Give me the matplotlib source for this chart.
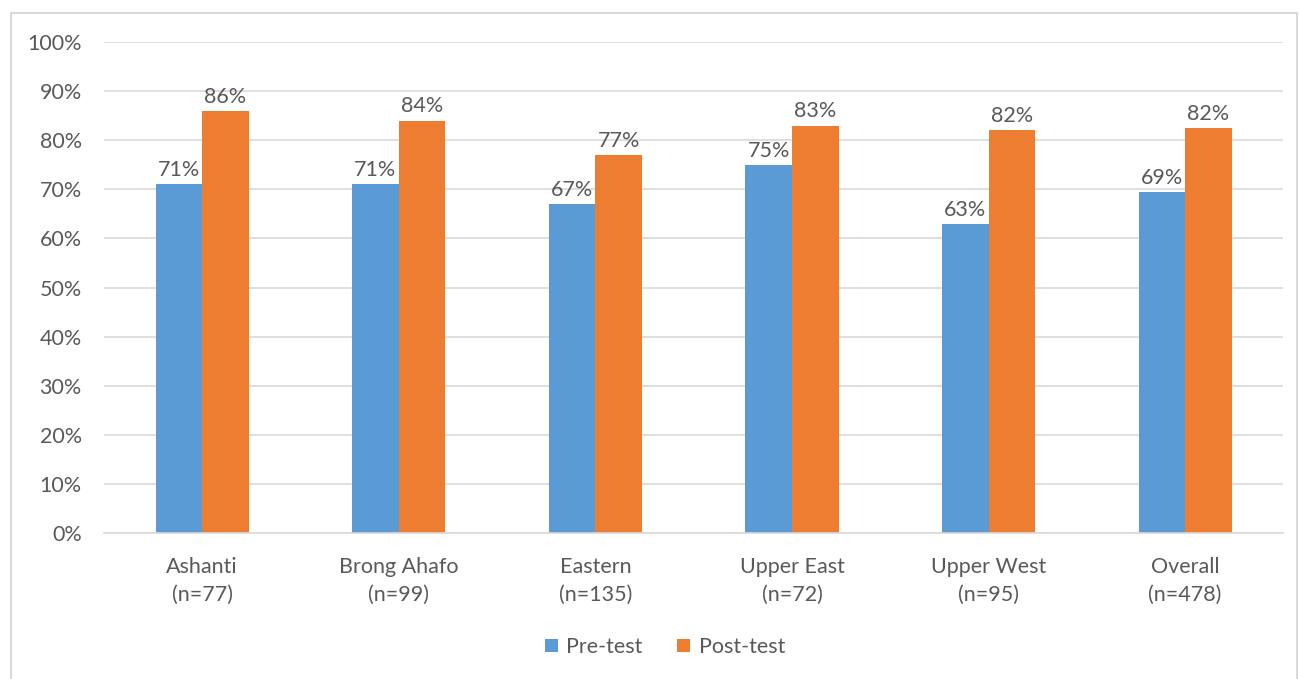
import matplotlib.pyplot as plt
import numpy as np
from matplotlib.patches import Rectangle

regions = ["Ashanti\n(n=77)", "Brong Ahafo\n(n=99)", "Eastern\n(n=135)",
           "Upper East\n(n=72)", "Upper West\n(n=95)", "Overall\n(n=478)"]
pre_test = [0.71, 0.71, 0.67, 0.75, 0.63, 0.694]
post_test = [0.86, 0.84, 0.77, 0.83, 0.82, 0.824]

plt.rcParams['font.family'] = ['Lato', 'DejaVu Sans']
text_color = "#595959"
grid_color = "#d9d9d9"
fs = 15.5

fig = plt.figure(figsize=(12.99, 6.79), dpi=100)
ax = fig.add_axes([0.080, 0.215, 0.908, 0.723])

x = np.arange(len(regions))
w = 0.237
b1 = ax.bar(x - w / 2, pre_test, w, color="#5B9BD5", label="Pre-test", zorder=2)
b2 = ax.bar(x + w / 2, post_test, w, color="#ED7D31", label="Post-test", zorder=2)

for bars in (b1, b2):
    for bar in bars:
        v = bar.get_height()
        ax.annotate(f"{v * 100:.0f}%", (bar.get_x() + bar.get_width() / 2, v),
                    xytext=(0, 3), textcoords="offset points",
                    ha="center", va="bottom", fontsize=fs, color=text_color)

ax.set_xlim(-0.5, len(regions) - 0.5)
ax.set_ylim(0, 1.0)
ax.set_yticks(np.arange(0, 1.01, 0.1))
ax.set_yticklabels([f"{int(round(t * 100))}%" for t in np.arange(0, 1.01, 0.1)])
ax.set_xticks(x)
ax.set_xticklabels(regions, linespacing=1.5)
ax.tick_params(axis="both", length=0, labelsize=fs, labelcolor=text_color)
ax.tick_params(axis="x", pad=17)
ax.tick_params(axis="y", pad=16)

ax.grid(axis="y", color=grid_color, linewidth=1.2, zorder=0)
for side in ("top", "right", "left"):
    ax.spines[side].set_visible(False)
ax.spines["bottom"].set_color(grid_color)
ax.spines["bottom"].set_linewidth(1.2)

ax.legend(loc="center", bbox_to_anchor=(0.512, 0.047), bbox_transform=fig.transFigure,
          ncol=2, frameon=False, fontsize=fs, labelcolor=text_color,
          handlelength=0.6, handleheight=0.6, handletextpad=0.4, columnspacing=1.6)

# light chart-area border
fig.patches.append(Rectangle((11 / 1299, -0.01), 1286 / 1299, 1 - 13 / 679 + 0.01,
                             transform=fig.transFigure, fill=False,
                             edgecolor=grid_color, linewidth=1.5))

fig.savefig("out.png", dpi=100)
